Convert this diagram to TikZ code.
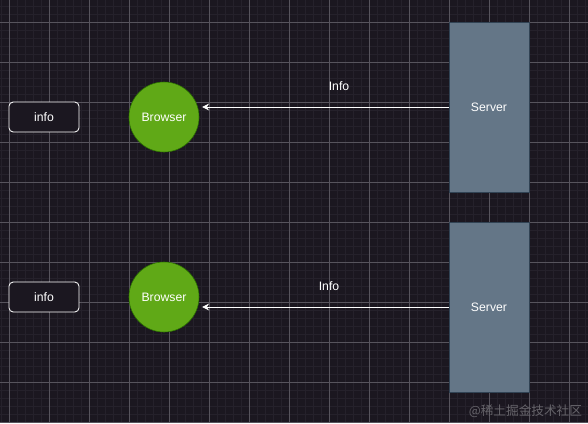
\documentclass[tikz,border=0pt]{standalone}
\usepackage{fontspec}
\setmainfont{Liberation Sans}
\newfontfamily\cjkfont{Noto Sans CJK SC}
\usetikzlibrary{arrows.meta}

\definecolor{bgdark}{HTML}{1B1720}
\definecolor{gridminor}{HTML}{25212B}
\definecolor{gridmajor}{HTML}{57545D}
\definecolor{browsergreen}{HTML}{60A917}
\definecolor{browseredge}{HTML}{2D7600}
\definecolor{servergrey}{HTML}{647687}
\definecolor{serveredge}{HTML}{314354}
\definecolor{markgrey}{HTML}{66646A}

\tikzset{
  infobox/.style={draw=white, fill=bgdark, rounded corners=3pt, text=white,
    minimum width=1.75cm, minimum height=0.75cm, line width=0.6pt},
  browser/.style={circle, draw=browseredge, fill=browsergreen, text=white,
    minimum size=1.75cm, inner sep=0pt},
  server/.style={draw=serveredge, fill=servergrey, text=white,
    minimum width=2cm, minimum height=4.25cm},
  msgarrow/.style={draw=white, line width=0.6pt, -{Stealth[length=5pt,width=5pt]}},
  msglabel/.style={text=white}
}

\begin{document}
\begin{tikzpicture}[x=0.025cm, y=-0.025cm, font=\fontsize{8.7}{10}\selectfont]
  % background and grid
  \fill[bgdark] (0,0) rectangle (588,423);
  \useasboundingbox (0,0) rectangle (588,423);
  \foreach \x in {1,9,...,585} \draw[gridminor, line width=0.4pt] (\x,0) -- (\x,423);
  \foreach \y in {6,14,...,422} \draw[gridminor, line width=0.4pt] (0,\y) -- (588,\y);
  \foreach \x in {9,49,...,569} \draw[gridmajor, line width=0.5pt] (\x,0) -- (\x,423);
  \foreach \y in {22,62,...,422} \draw[gridmajor, line width=0.5pt] (0,\y) -- (588,\y);

  % upper row
  \node[infobox] (info1) at (44,117) {info};
  \node[browser] (brw1) at (164,117) {Browser};
  \node[server] (srv1) at (489,107) {Server};
  \draw[msgarrow] (srv1.west) -- ([xshift=2pt]brw1.east |- srv1.west);
  \node[msglabel] (lbl1) at (339,86) {Info};

  % lower row
  \node[infobox] (info2) at (44,297) {info};
  \node[browser] (brw2) at (164,297) {Browser};
  \node[server] (srv2) at (489,307) {Server};
  \draw[msgarrow] (srv2.west) -- ([xshift=2pt]brw2.east |- srv2.west);
  \node[msglabel] (lbl2) at (329,286) {Info};

  % watermark
  \node[text=markgrey, font=\cjkfont\fontsize{9}{10}\selectfont, anchor=east] (mark) at (587,411) {@稀土掘金技术社区};
\end{tikzpicture}
\end{document}
